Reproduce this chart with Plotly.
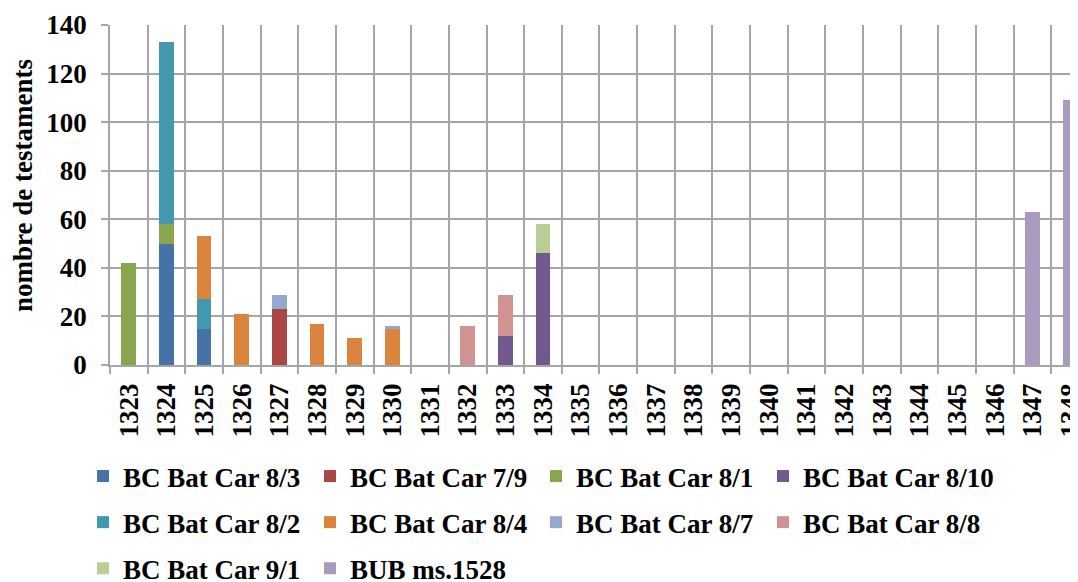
import plotly.graph_objects as go

years = ["1323", "1324", "1325", "1326", "1327", "1328", "1329", "1330", "1331",
         "1332", "1333", "1334", "1335", "1336", "1337", "1338", "1339", "1340",
         "1341", "1342", "1343", "1344", "1345", "1346", "1347", "1348"]

#            1323 24  25  26  27  28  29  30  31  32  33  34  35 ... 1348
bc_8_3  = [0, 50, 15, 0, 0, 0, 0, 0, 0, 0, 0, 0, 0, 0, 0, 0, 0, 0, 0, 0, 0, 0, 0, 0, 0, 0]
bc_7_9  = [0, 0, 0, 0, 23, 0, 0, 0, 0, 0, 0, 0, 0, 0, 0, 0, 0, 0, 0, 0, 0, 0, 0, 0, 0, 0]
bc_8_1  = [42, 8, 0, 0, 0, 0, 0, 0, 0, 0, 0, 0, 0, 0, 0, 0, 0, 0, 0, 0, 0, 0, 0, 0, 0, 0]
bc_8_10 = [0, 0, 0, 0, 0, 0, 0, 0, 0, 0, 12, 46, 0, 0, 0, 0, 0, 0, 0, 0, 0, 0, 0, 0, 0, 0]
bc_8_2  = [0, 75, 12, 0, 0, 0, 0, 0, 0, 0, 0, 0, 0, 0, 0, 0, 0, 0, 0, 0, 0, 0, 0, 0, 0, 0]
bc_8_4  = [0, 0, 26, 21, 0, 17, 11, 15, 0, 0, 0, 0, 0, 0, 0, 0, 0, 0, 0, 0, 0, 0, 0, 0, 0, 0]
bc_8_7  = [0, 0, 0, 0, 6, 0, 0, 1, 0, 0, 0, 0, 0, 0, 0, 0, 0, 0, 0, 0, 0, 0, 0, 0, 0, 0]
bc_8_8  = [0, 0, 0, 0, 0, 0, 0, 0, 0, 16, 17, 0, 0, 0, 0, 0, 0, 0, 0, 0, 0, 0, 0, 0, 0, 0]
bc_9_1  = [0, 0, 0, 0, 0, 0, 0, 0, 0, 0, 0, 12, 0, 0, 0, 0, 0, 0, 0, 0, 0, 0, 0, 0, 0, 0]
bub     = [0, 0, 0, 0, 0, 0, 0, 0, 0, 0, 0, 0, 0, 0, 0, 0, 0, 0, 0, 0, 0, 0, 0, 0, 63, 109]

# legend column each series sits in (legend boxes laid out like the Excel one)
series = [
    ("BC Bat Car 8/3", bc_8_3, "#4572A7", "legend"),
    ("BC Bat Car 7/9", bc_7_9, "#AA4643", "legend2"),
    ("BC Bat Car 8/1", bc_8_1, "#89A54E", "legend3"),
    ("BC Bat Car 8/10", bc_8_10, "#71588F", "legend4"),
    ("BC Bat Car 8/2", bc_8_2, "#4198AF", "legend"),
    ("BC Bat Car 8/4", bc_8_4, "#DB843D", "legend2"),
    ("BC Bat Car 8/7", bc_8_7, "#93A9CF", "legend3"),
    ("BC Bat Car 8/8", bc_8_8, "#D19392", "legend4"),
    ("BC Bat Car 9/1", bc_9_1, "#B9CD96", "legend"),
    ("BUB ms.1528", bub, "#A99BBD", "legend2"),
]
y_title = "nombre de testaments"

font = dict(family="Liberation Serif, Times New Roman, serif", color="black", weight=700)
grid = "#a6a6a6"

# the page body has an 8px margin, so the figure is 8px smaller than the window
W, H = 1070, 574
L, T, B = 102, 17, 217

fig = go.Figure()
for name, vals, col, leg in series:
    fig.add_trace(go.Bar(x=years, y=vals, name=name, legend=leg, legendgroup=name,
                         marker=dict(color=col, line=dict(width=0))))

leg_common = dict(orientation="v", xref="container", yref="container",
                  xanchor="left", yanchor="top", y=1 - 444 / H,
                  tracegroupgap=8, traceorder="grouped", font=dict(font, size=27),
                  bgcolor="rgba(0,0,0,0)", itemclick=False)

# y axis title as an annotation (axis title misplaces when margins are fixed)
fig.add_annotation(text=y_title, textangle=-90, showarrow=False,
                   xref="paper", yref="paper", xanchor="center", yanchor="middle",
                   x=(15 - L) / (W - L), y=(H - B - 178) / (H - B - T),
                   font=dict(font, size=27))

fig.update_layout(
    barmode="stack",
    bargap=0.61,
    width=W, height=H,
    margin=dict(l=L, r=0, t=T, b=B, autoexpand=False),
    plot_bgcolor="white",
    paper_bgcolor="white",
    font=font,
    legend=dict(leg_common, x=75 / W),
    legend2=dict(leg_common, x=302 / W),
    legend3=dict(leg_common, x=528 / W),
    legend4=dict(leg_common, x=755 / W),
    xaxis=dict(
        type="category",
        automargin=False,
        range=[-0.5, 25.21],
        tickson="boundaries",
        ticks="outside", ticklen=7, tickcolor=grid, tickwidth=1.5,
        showgrid=True, gridcolor=grid, gridwidth=1.5,
        showline=True, linecolor=grid, linewidth=1.5,
        tickangle=-90,
        ticklabelstandoff=6,
        tickfont=dict(font, size=27),
    ),
    yaxis=dict(
        automargin=False,
        range=[0, 140], dtick=20,
        ticks="outside", ticklen=7, tickcolor=grid, tickwidth=1.5,
        showgrid=True, gridcolor=grid, gridwidth=1.5,
        showline=True, linecolor=grid, linewidth=1.5,
        zeroline=False,
        ticklabelstandoff=9,
        tickfont=dict(font, size=27),
    ),
)

fig.write_html("out.html")
